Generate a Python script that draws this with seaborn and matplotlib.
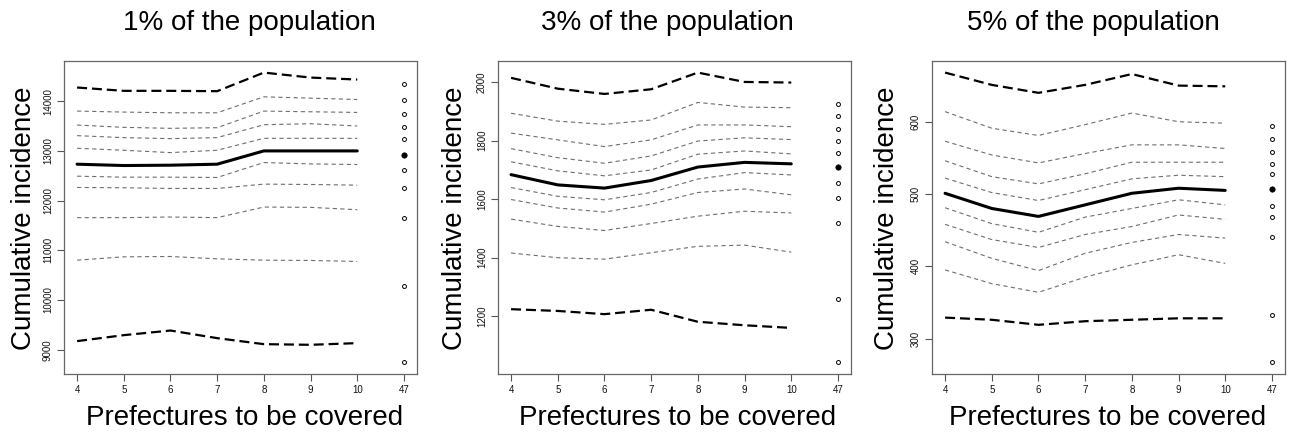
import matplotlib
matplotlib.use('Agg')
import matplotlib.pyplot as plt
import seaborn as sns
import pandas as pd

# x categories (number of prefectures covered); 47 is shown only as points
prefectures = ['4', '5', '6', '7', '8', '9', '10']
all_label = '47'

# 1% of the population: percentile lines, top to bottom (index 5 = median)
pct1_lines = [
    [14274, 14207, 14207, 14200, 14574, 14474, 14434],
    [13800, 13780, 13766, 13766, 14087, 14060, 14033],
    [13519, 13473, 13453, 13466, 13800, 13786, 13773],
    [13306, 13266, 13246, 13266, 13526, 13546, 13500],
    [13052, 13012, 12965, 13012, 13252, 13252, 13252],
    [12732, 12705, 12712, 12732, 12999, 12999, 12999],
    [12491, 12471, 12471, 12465, 12765, 12738, 12725],
    [12264, 12258, 12244, 12244, 12331, 12324, 12311],
    [11657, 11657, 11670, 11657, 11870, 11864, 11817],
    [10802, 10869, 10876, 10829, 10802, 10796, 10776],
    [9174, 9294, 9387, 9234, 9113, 9100, 9134],
]
pct1_all = [14340, 14020, 13746, 13486, 13239, 12925, 12625, 12244, 11650, 10282, 8746]

# 3% of the population
pct3_lines = [
    [2015, 1978, 1960, 1976, 2033, 2001, 1999],
    [1894, 1867, 1856, 1871, 1931, 1915, 1913],
    [1826, 1803, 1780, 1803, 1854, 1854, 1848],
    [1773, 1742, 1723, 1748, 1799, 1810, 1804],
    [1728, 1697, 1680, 1700, 1754, 1765, 1755],
    [1684, 1649, 1638, 1664, 1710, 1726, 1721],
    [1640, 1610, 1598, 1623, 1669, 1691, 1683],
    [1599, 1570, 1556, 1583, 1623, 1635, 1615],
    [1532, 1507, 1493, 1517, 1542, 1559, 1553],
    [1416, 1400, 1395, 1417, 1439, 1443, 1419],
    [1224, 1218, 1207, 1222, 1181, 1169, 1160],
]
pct3_all = [1927, 1885, 1841, 1800, 1759, 1711, 1657, 1604, 1520, 1260, 1042]

# 5% of the population
pct5_lines = [
    [668, 651, 640, 651, 666, 650, 649],
    [614, 591, 581, 596, 612, 600, 598],
    [573, 554, 543, 556, 568, 568, 563],
    [546, 524, 514, 528, 544, 544, 544],
    [522, 502, 491, 506, 521, 526, 524],
    [501, 480, 469, 485, 501, 508, 505],
    [481, 459, 447, 468, 480, 492, 485],
    [458, 437, 426, 444, 455, 471, 465],
    [434, 411, 394, 418, 433, 444, 439],
    [395, 376, 364, 385, 402, 416, 404],
    [329, 326, 319, 324, 326, 328, 328],
]
pct5_all = [594, 576, 558, 542, 528, 507, 483, 468, 440, 333, 267]

panels = [
    ('1% of the population', pct1_lines, pct1_all, [9000, 10000, 11000, 12000, 13000, 14000]),
    ('3% of the population', pct3_lines, pct3_all, [1200, 1400, 1600, 1800, 2000]),
    ('5% of the population', pct5_lines, pct5_all, [300, 400, 500, 600]),
]

sns.set_style('white')
plt.rcParams['font.family'] = ['Liberation Sans', 'DejaVu Sans']
plt.rcParams['text.color'] = 'black'

W, H = 1290, 434
fig = plt.figure(figsize=(W / 100, H / 100), dpi=100)

ax_left = [64, 498, 932]
ax_w = 353
ax_top, ax_bot = 61, 374
title_x = [249, 667, 1093]
xlab_x = [245, 678, 1108]
ylab_x = [24, 455, 887]

thick = dict(color='black', lw=1.6, linestyle=(0, (4.5, 2.2)))
thin = dict(color='#6e6e6e', lw=0.8, linestyle=(0, (3.8, 3.0)))
median = dict(color='black', lw=2.2, linestyle='-')

for i, (title, lines, pts, yticks) in enumerate(panels):
    ax = fig.add_axes([ax_left[i] / W, 1 - ax_bot / H, ax_w / W, (ax_bot - ax_top) / H])
    xs = list(range(len(prefectures)))
    n = len(lines)
    for k, vals in enumerate(lines):
        if k in (0, n - 1):
            style = thick
        elif k == n // 2:
            style = median
        else:
            style = thin
        sns.lineplot(x=xs, y=vals, ax=ax, **style)

    x_all = [len(prefectures)] * len(pts)
    df_pts = pd.DataFrame({'x': x_all, 'y': pts})
    mid = len(pts) // 2
    open_pts = df_pts.drop(index=mid)
    sns.scatterplot(data=open_pts, x='x', y='y', ax=ax, s=8, marker='o',
                    facecolor='white', edgecolor='black', linewidth=0.7)
    sns.scatterplot(data=df_pts.iloc[[mid]], x='x', y='y', ax=ax, s=15,
                    marker='o', color='black', edgecolor='black', linewidth=0.5)

    ax.margins(x=0.04, y=0.04)
    ax.set_xticks(list(range(len(prefectures) + 1)))
    ax.set_xticklabels(prefectures + [all_label])
    ax.set_yticks(yticks)
    ax.set_yticklabels([str(t) for t in yticks], rotation=90, va='center')
    ax.tick_params(axis='both', which='both', direction='out', length=5, width=0.8,
                   color='#555555', labelsize=7, labelcolor='#111111', pad=3,
                   bottom=True, left=True)
    ax.set_xlabel('')
    ax.set_ylabel('')
    for sp in ax.spines.values():
        sp.set_visible(True)
        sp.set_color('#666666')
        sp.set_linewidth(0.9)

    fig.text(title_x[i] / W, 1 - 23 / H, title, ha='center', va='center',
             fontsize=20, color='black')
    fig.text(xlab_x[i] / W, 1 - 418 / H, 'Prefectures to be covered', ha='center',
             va='center', fontsize=20, color='black')
    fig.text(ylab_x[i] / W, 1 - 218 / H, 'Cumulative incidence', ha='center',
             va='center', rotation=90, fontsize=20, color='black')

fig.savefig('out.png', dpi=100)
